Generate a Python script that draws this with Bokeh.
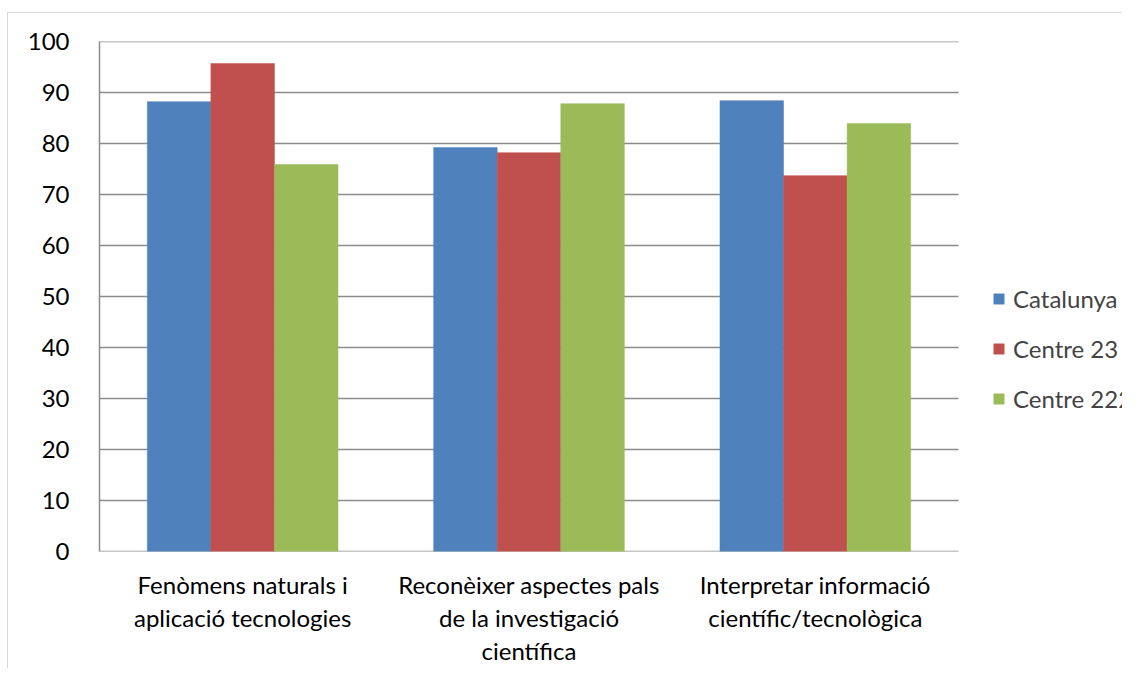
from bokeh.plotting import figure
from bokeh.models import ColumnDataSource, Legend, LegendItem, FixedTicker, Range1d
from bokeh.embed import file_html
from bokeh.resources import INLINE

categories = ["Fenòmens naturals i\naplicació tecnologies",
              "Reconèixer aspectes pals\nde la investigació\ncientífica",
              "Interpretar informació\ncientífic/tecnològica"]
catalunya = [88.2, 79.2, 88.4]
centre23 = [95.7, 78.2, 73.7]
centre222 = [75.9, 87.8, 83.9]
series_names = ["Catalunya", "Centre 23", "Centre 222"]
colors = ["#4F81BD", "#C0504D", "#9BBB59"]
y_ticks = list(range(0, 101, 10))

n = len(categories)
pos = [i + 0.5 for i in range(n)]
w = 0.222
src = ColumnDataSource(dict(x=pos, a=catalunya, b=centre23, c=centre222))

FONT = "Lato"
LEFT, TOP = 91, 28
FRAME_W, FRAME_H = 1023, 510
p = figure(x_range=Range1d(0, n * FRAME_W / 859), y_range=Range1d(0, 100),
           frame_width=FRAME_W, frame_height=FRAME_H,
           output_backend="svg", toolbar_location=None,
           min_border_left=LEFT, min_border_right=0, min_border_top=TOP, min_border_bottom=20)
p.styles = {"border-left": "1px solid #d9d9d9", "border-top": "1px solid #d9d9d9",
            "margin-left": "7px", "margin-top": "12px"}

# gridlines limited to the category span
p.segment(x0=[0] * len(y_ticks), x1=[n] * len(y_ticks), y0=y_ticks, y1=y_ticks,
          line_color="#8c8c8c", line_width=1.5)

renderers = []
for col, off, color in zip(["a", "b", "c"], [-w, 0, w], colors):
    xs = [v + off for v in pos]
    s = ColumnDataSource(dict(x=xs, top=src.data[col]))
    r = p.vbar(x="x", top="top", width=w, source=s,
               fill_color=color, line_color=color, line_width=0.5)
    renderers.append(r)

p.outline_line_color = None
p.background_fill_color = "white"
p.xgrid.grid_line_color = None
p.ygrid.grid_line_color = None
p.yaxis.ticker = FixedTicker(ticks=y_ticks)
p.xaxis.ticker = FixedTicker(ticks=pos)
p.xaxis.major_label_overrides = {v: c for v, c in zip(pos, categories)}
for ax in (p.xaxis[0], p.yaxis[0]):
    ax.axis_line_color = "#8c8c8c"
    ax.axis_line_width = 1.5
    ax.major_tick_line_color = None
    ax.minor_tick_line_color = None
    ax.major_label_text_font = FONT
    ax.major_label_text_font_size = "24px"
    ax.major_label_text_color = "#000000"
p.xaxis.axis_line_color = None
p.yaxis.major_label_standoff = 24
p.xaxis.major_label_standoff = 12
p.xaxis.major_label_text_line_height = 1.15

legend = Legend(items=[LegendItem(label=nm, renderers=[r]) for nm, r in zip(series_names, renderers)],
                location=(893, 138), border_line_color=None, background_fill_alpha=0,
                label_text_font=FONT, label_text_font_size="24px", glyph_width=13, glyph_height=13,
                label_height=24, spacing=21, padding=0, margin=0, label_standoff=8)
p.add_layout(legend, "center")

open("out.html", "w").write(file_html(p, INLINE))
